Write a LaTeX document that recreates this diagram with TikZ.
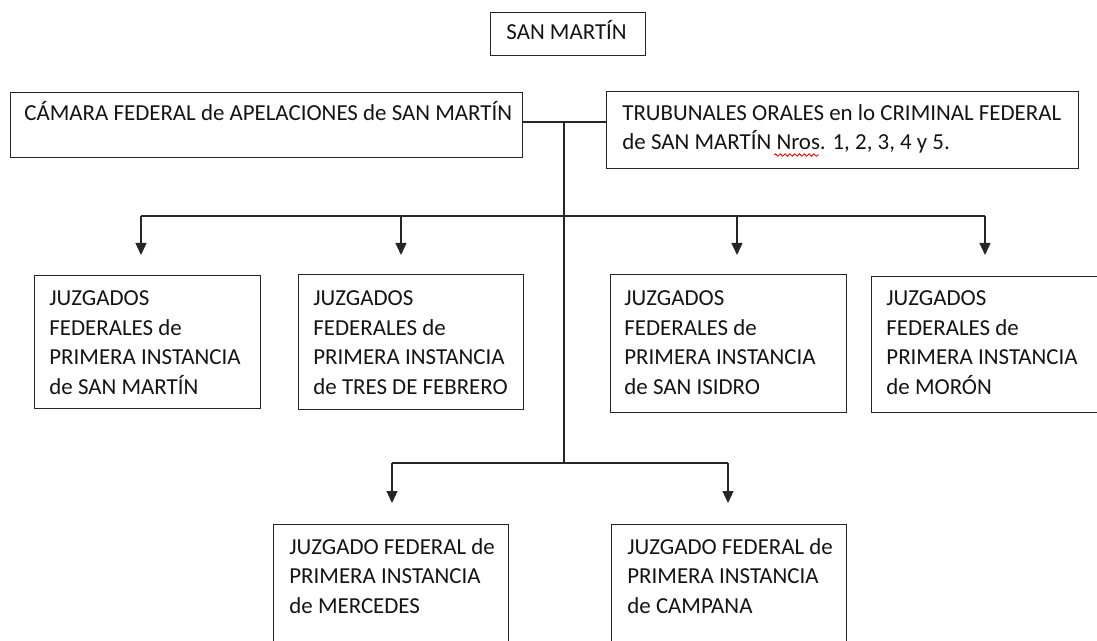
\documentclass[tikz,border=0pt]{standalone}
\usepackage{fontspec}
\setmainfont{Carlito}
\usetikzlibrary{arrows.meta,decorations.pathmorphing}
\begin{document}
\begin{tikzpicture}[x=0.5pt,y=-0.5pt,
  box/.style={draw=black!85, line width=0.65pt, rectangle, inner sep=0pt, anchor=north west},
  sz/.style 2 args={minimum width=#1*0.5pt, minimum height=#2*0.5pt},
  txt/.style={font=\fontsize{11.45}{14.7}\selectfont, align=left, inner sep=0pt, anchor=north west, text=black!92},
  conn/.style={draw=black!85, line width=0.65pt},
  arr/.style={conn, -{Triangle[width=5.5pt,length=6pt]}},
  wave/.style={draw=red!85!black, line width=0.4pt, decorate, decoration={snake, amplitude=0.6pt, segment length=2.4pt}}]
\useasboundingbox (0,0) rectangle (1097,641);
\clip (0,0) rectangle (1097,641);

% boxes
\node[box, sz={155}{43}] (top) at (490,12) {};
\node[box, sz={512}{65}] (cam) at (10,92) {};
\node[box, sz={472}{77}] (tru) at (606,91) {};
\node[box, sz={226}{133}] (b1) at (34,275) {};
\node[box, sz={225}{135}] (b2) at (298,274) {};
\node[box, sz={236}{138}] (b3) at (610,274) {};
\node[box, sz={240}{136}] (b4) at (871,276) {};
\node[box, sz={235}{180}] (b5) at (273,524) {};
\node[box, sz={235}{180}] (b6) at (611,524) {};

% texts
\node[txt] (t0) at (506,19) {\strut SAN MARTÍN};
\node[txt] (tc) at (24,99.5) {\strut CÁMARA FEDERAL de APELACIONES de SAN MARTÍN};
\node[txt] (tt) at (622,99.5) {\strut TRUBUNALES ORALES en lo CRIMINAL FEDERAL\\de SAN MARTÍN Nros. 1, 2, 3, 4 y 5.};
\node[txt] (t1) at (49,285) {\strut JUZGADOS\\FEDERALES de\\PRIMERA INSTANCIA\\de SAN MARTÍN};
\node[txt] (t2) at (313,285) {\strut JUZGADOS\\FEDERALES de\\PRIMERA INSTANCIA\\de TRES DE FEBRERO};
\node[txt] (t3) at (624,285) {\strut JUZGADOS\\FEDERALES de\\PRIMERA INSTANCIA\\de SAN ISIDRO};
\node[txt] (t4) at (886,285) {\strut JUZGADOS\\FEDERALES de\\PRIMERA INSTANCIA\\de MORÓN};
\node[txt] (t5) at (289,533.5) {\strut JUZGADO FEDERAL de\\PRIMERA INSTANCIA\\de MERCEDES};
\node[txt] (t6) at (627,533.5) {\strut JUZGADO FEDERAL de\\PRIMERA INSTANCIA\\de CAMPANA};

% spell-check wave under "Nros."
\coordinate (w1) at (774,155);
\coordinate (w2) at (819,155);
\draw[wave] (w1) -- (w2);

% connector coordinates
\coordinate (j) at (564,122);
\coordinate (m2) at (564,463);
\coordinate (a1) at (141,216);
\coordinate (a2) at (401,216);
\coordinate (a3) at (737,216);
\coordinate (a4) at (985,216);
\coordinate (e1) at (141,255);
\coordinate (e2) at (401,255);
\coordinate (e3) at (737,255);
\coordinate (e4) at (985,255);
\coordinate (c5) at (392,463);
\coordinate (c6) at (728,463);
\coordinate (e5) at (392,503);
\coordinate (e6) at (728,503);

% connectors
\draw[conn] (cam.east |- j) -- (tru.west |- j);
\draw[conn] (j) -- (m2);
\draw[conn] (a1) -- (a4);
\draw[conn] (c5) -- (c6);
\draw[arr] (a1) -- (e1);
\draw[arr] (a2) -- (e2);
\draw[arr] (a3) -- (e3);
\draw[arr] (a4) -- (e4);
\draw[arr] (c5) -- (e5);
\draw[arr] (c6) -- (e6);
\end{tikzpicture}
\end{document}
